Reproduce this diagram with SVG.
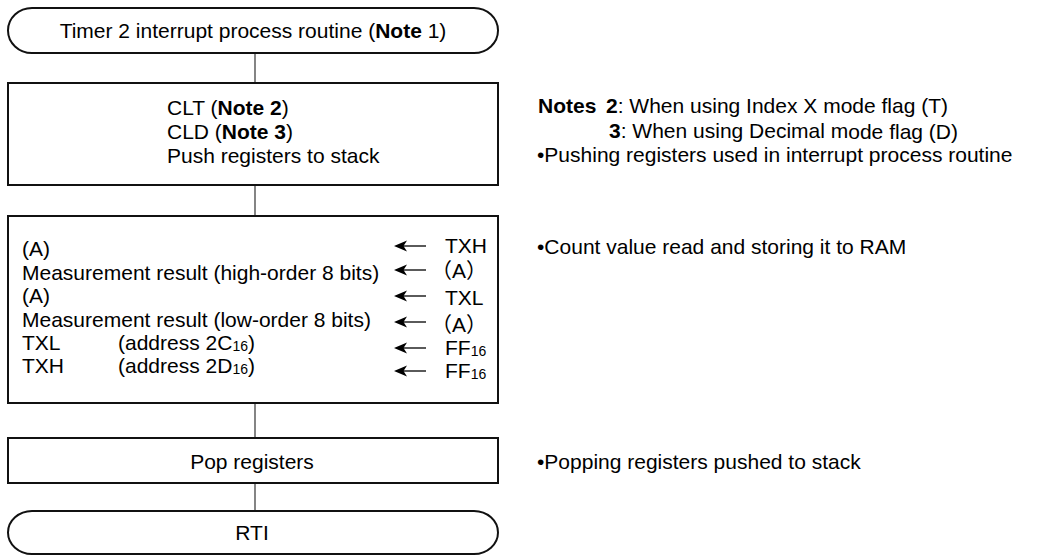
<svg xmlns="http://www.w3.org/2000/svg" xmlns:xlink="http://www.w3.org/1999/xlink" width="1048" height="556" viewBox="0 0 1048 556">
<style>
text{font-family:"Liberation Sans",Arial,"Noto Sans CJK JP",sans-serif;font-size:21px;fill:#000}
.b{font-weight:bold}
.s{font-size:14px}
.shape{fill:#fff;stroke:#111;stroke-width:2}
.conn{stroke:#333;stroke-width:1.2;fill:none}
.mid{text-anchor:middle}
</style>
<defs>
<g id="arr">
<path d="M0,0 L13,-5.5 L9.5,0 L13,5.5 Z" fill="#000"/>
<line x1="9" y1="0" x2="32" y2="0" stroke="#000" stroke-width="1.3"/>
</g>
</defs>
<rect width="1048" height="556" fill="#fff"/>
<g id="connectors">
<line class="conn" x1="255" y1="53" x2="255" y2="83"/>
<line class="conn" x1="255" y1="185" x2="255" y2="216"/>
<line class="conn" x1="255" y1="403" x2="255" y2="438"/>
<line class="conn" x1="255" y1="483" x2="255" y2="511"/>
</g>
<g id="start">
<path class="shape" d="M32,8 H474 A24,22.5 0 0 1 474,53 H32 A24,22.5 0 0 1 32,8 Z"/>
<text x="253" y="38" class="mid">Timer 2 interrupt process routine (<tspan class="b">Note</tspan> 1)</text>
</g>
<g id="box1">
<rect class="shape" x="8" y="83" width="490" height="102"/>
<text x="167" y="115">CLT (<tspan class="b">Note 2</tspan>)</text>
<text x="167" y="139">CLD (<tspan class="b">Note 3</tspan>)</text>
<text x="167" y="163">Push registers to stack</text>
</g>
<g id="box2">
<rect class="shape" x="8" y="216" width="490" height="187"/>
<text x="22" y="256">(A)</text>
<text x="22" y="280">Measurement result (high-order 8 bits)</text>
<text x="22" y="303">(A)</text>
<text x="22" y="327">Measurement result (low-order 8 bits)</text>
<text x="22" y="350">TXL</text>
<text x="118" y="350">(address 2C<tspan class="s" dy="1">16</tspan><tspan dy="-1">)</tspan></text>
<text x="22" y="373">TXH</text>
<text x="118" y="373">(address 2D<tspan class="s" dy="1">16</tspan><tspan dy="-1">)</tspan></text>
<use xlink:href="#arr" x="394" y="246"/>
<use xlink:href="#arr" x="394" y="270"/>
<use xlink:href="#arr" x="394" y="296"/>
<use xlink:href="#arr" x="394" y="322"/>
<use xlink:href="#arr" x="394" y="348"/>
<use xlink:href="#arr" x="394" y="371"/>
<text x="445" y="253">TXH</text>
<text x="431" y="278">（A）</text>
<text x="445" y="305">TXL</text>
<text x="431" y="332">（A）</text>
<text x="445" y="355">FF<tspan class="s" dy="1">16</tspan></text>
<text x="445" y="378">FF<tspan class="s" dy="1">16</tspan></text>
</g>
<g id="box3">
<rect class="shape" x="8" y="438" width="490" height="45"/>
<text x="252" y="469" class="mid">Pop registers</text>
</g>
<g id="end">
<path class="shape" d="M32,511 H474 A24,21.5 0 0 1 474,554 H32 A24,21.5 0 0 1 32,511 Z"/>
<text x="252" y="540" class="mid">RTI</text>
</g>
<g id="notes">
<text x="538" y="113"><tspan class="b">Notes</tspan><tspan x="606" class="b">2</tspan>: When using Index X mode flag (T)</text>
<text x="609" y="138"><tspan class="b">3</tspan>: When using Decimal m<tspan dy="1">ode flag (D)</tspan></text>
<text x="537" y="162">•Pushing registers used in interrupt process routine</text>
<text x="537" y="254">•Count value read and storing it to RAM</text>
<text x="537" y="469">•Popping registers pushed to stack</text>
</g>
</svg>
